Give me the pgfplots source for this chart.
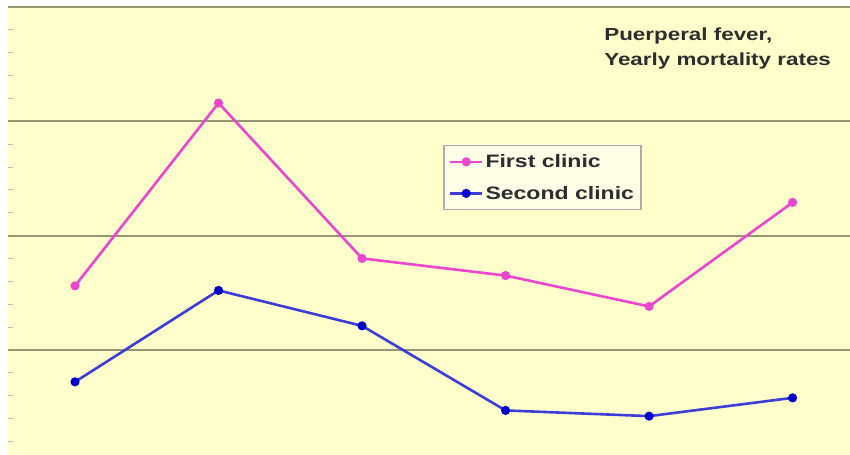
\documentclass[border=0pt]{standalone}
\usepackage{fontspec}
\setmainfont{Liberation Sans}[FakeStretch=1.28]
\usepackage{pgfplots}
\pgfplotsset{compat=1.18}
\definecolor{bgyellow}{RGB}{255,255,204}
\definecolor{gridc}{RGB}{150,150,112}
\definecolor{pinkc}{RGB}{235,70,205}
\definecolor{bluec}{RGB}{60,60,215}
\definecolor{txtc}{RGB}{45,45,45}
\begin{document}
\begin{tikzpicture}
\begin{axis}[
  scale only axis, width=842bp, height=448bp,
  xmin=-0.467, xmax=5.4, ymin=0.4, ymax=20,
  axis line style={draw=none},
  axis background/.style={fill=bgyellow},
  xtick=\empty,
  ytick={5,10,15,20}, yticklabels={},
  ymajorgrids, major grid style={gridc, line width=2bp},
  major tick length=0pt,
  minor ytick={1,2,3,4,6,7,8,9,11,12,13,14,16,17,18,19},
  minor tick length=5bp, minor tick style={gray!55, line width=0.8bp},
  ytick pos=left, tick align=inside,
  legend style={at={(0.517,0.692)}, anchor=north west, fill=white!55!bgyellow,
    draw=gray!65, line width=1.2bp, font=\bfseries\fontsize{18bp}{20bp}\selectfont,
    text=txtc, row sep=13bp, inner xsep=5bp, inner ysep=7bp},
  legend cell align=left,
  legend image code/.code={\draw[mark repeat=2,mark phase=2] plot coordinates {(0bp,0bp) (16bp,0bp) (32bp,0bp)};},
]
\addplot[pinkc, line width=2.6bp, mark=*, mark size=3.2bp] coordinates {
  (0,7.8) (1,15.8) (2,9.0) (3,8.25) (4,6.9) (5,11.45)};
\addlegendentry{First clinic}
\addplot[bluec, line width=2.6bp, mark=*, mark size=3.2bp, mark options={fill=blue!80!black, draw=blue!80!black}] coordinates {
  (0,3.6) (1,7.6) (2,6.05) (3,2.35) (4,2.1) (5,2.9)};
\addlegendentry{Second clinic}
\node[anchor=north west, align=left, inner sep=0pt, text=txtc,
  font=\bfseries\fontsize{17.5bp}{25bp}\selectfont]
  at (rel axis cs:0.708,0.955) {Puerperal fever,\\Yearly mortality rates};
\coordinate (SW) at (rel axis cs:0,0);
\coordinate (NE) at (rel axis cs:1,1);
\end{axis}
\pgfresetboundingbox
\path ([xshift=-8bp]SW) rectangle ([yshift=7bp]NE);
\end{tikzpicture}
\end{document}
